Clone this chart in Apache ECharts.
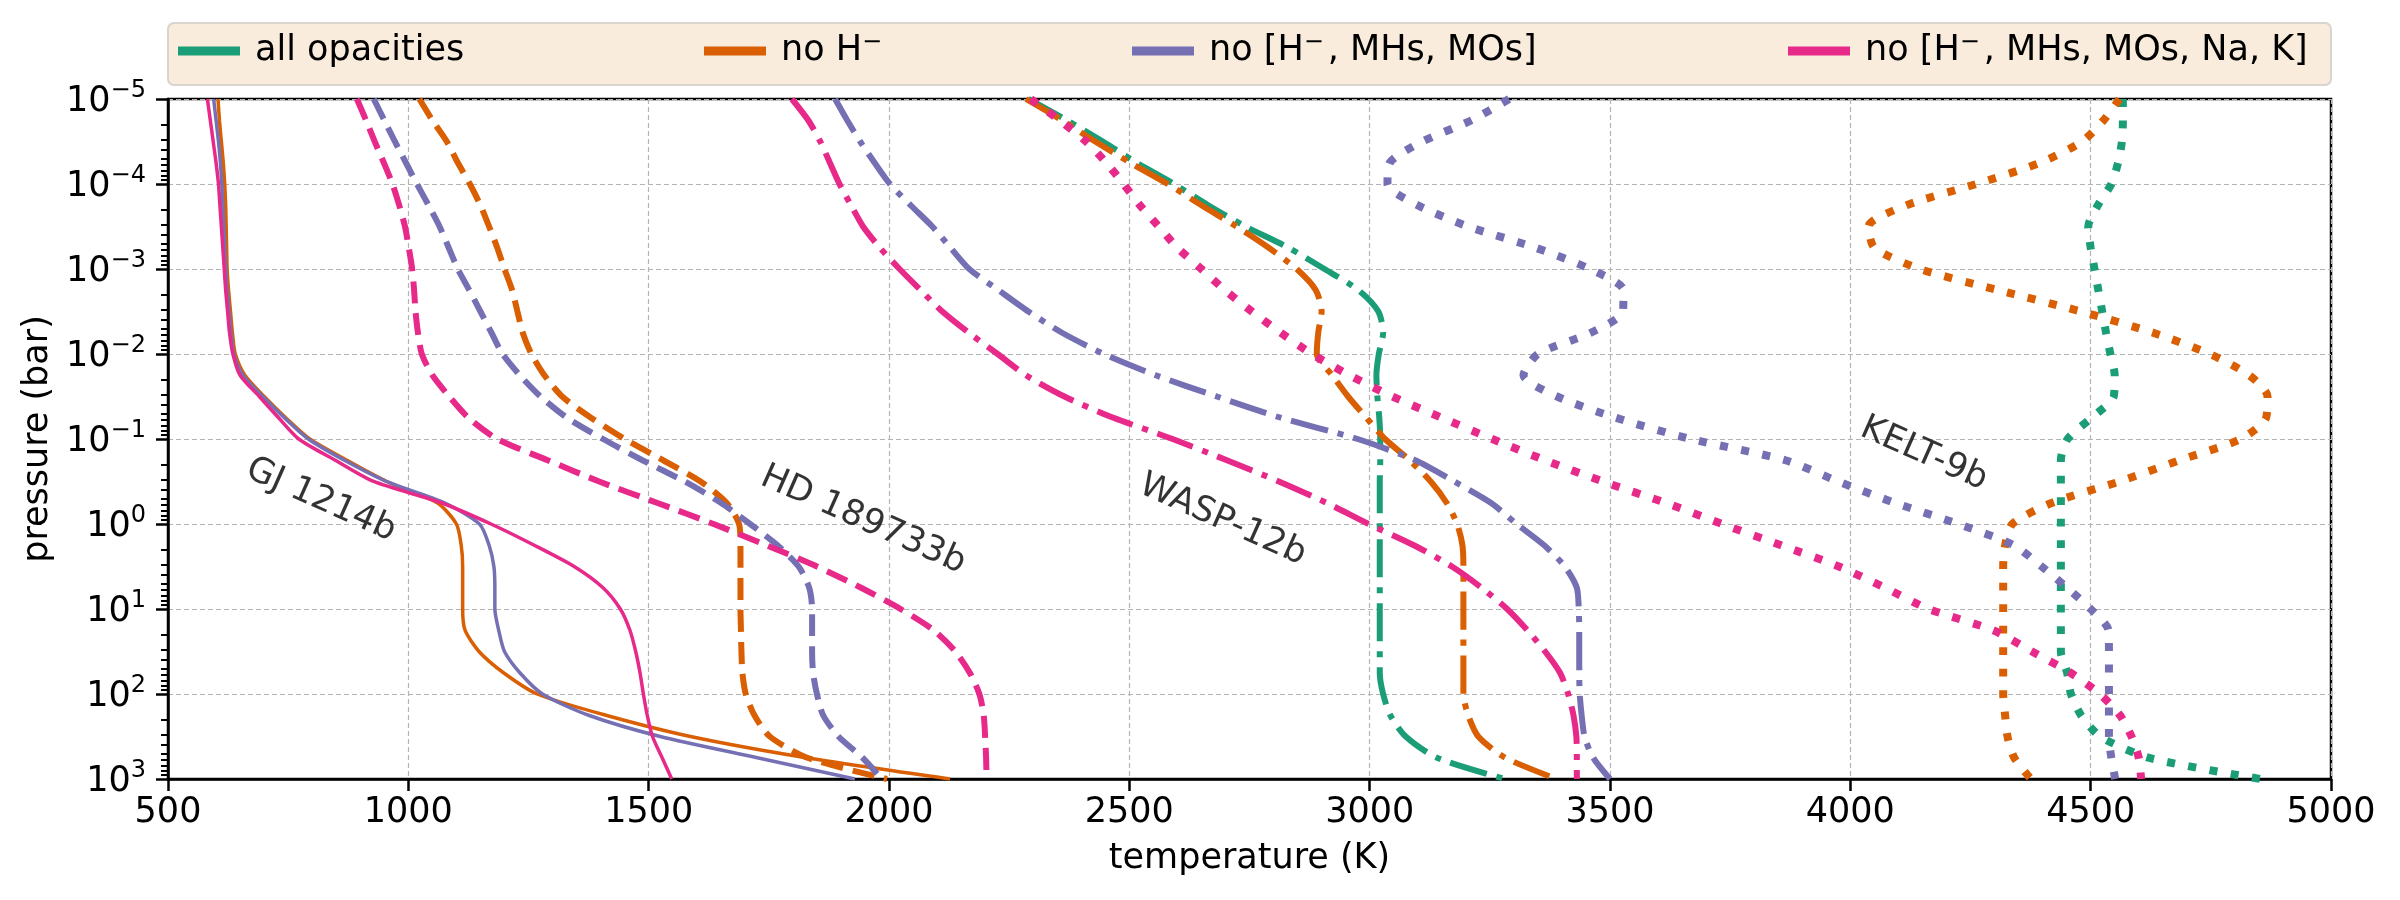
<!DOCTYPE html>
<html>
<head>
<meta charset="utf-8">
<title>pt_profiles</title>
<script src="https://cdn.jsdelivr.net/npm/echarts@6.0.0/dist/echarts.min.js"></script>
<style>
  html, body { margin: 0; padding: 0; background: #fff; }
  #main { width: 2400px; height: 900px; }
</style>
</head>
<body>
<div id="main"></div>
<script>
// pressure grid (bar), quarter decades from 1e-5 to 1e3
var pressure = [
  1e-5, 1.778e-5, 3.162e-5, 5.623e-5,
  1e-4, 1.778e-4, 3.162e-4, 5.623e-4,
  1e-3, 1.778e-3, 3.162e-3, 5.623e-3,
  1e-2, 1.778e-2, 3.162e-2, 5.623e-2,
  0.1, 0.1778, 0.3162, 0.5623,
  1, 1.778, 3.162, 5.623,
  10, 17.78, 31.62, 56.23,
  100, 177.8, 316.2, 562.3,
  1000
];

// temperatures (K) on that grid
// GJ 1214b (solid)
var gjNoHm    = [604,607,611,615, 618,620,621,622, 623,626,630,634, 640,660,700,745, 795,872,955,1060, 1100,1110,1113,1113, 1113,1118,1147,1198, 1268,1411,1587,1828, 2127];
var gjNoMetal = [595,600,605,609, 612,614,616,618, 620,623,627,631, 637,656,697,742, 792,867,955,1075, 1148,1168,1178,1180, 1180,1188,1200,1232, 1279,1375,1524,1726, 1929];
var gjNoAlk   = [582,588,594,600, 605,608,611,614, 617,620,624,628, 635,650,690,730, 772,848,928,1068, 1172,1262,1345,1405, 1441,1461,1473,1482, 1489,1497,1508,1528, 1548];
// HD 189733b (dashed)
var hdNoHm    = [1023,1050,1080,1103, 1128,1150,1168,1185, 1200,1216,1227,1238, 1256,1283,1320,1380, 1450,1530,1608,1662, 1688,1691,1691,1691, 1691,1692,1693,1695, 1702,1720,1752,1830, 1996];
var hdNoMetal = [928,950,972,995, 1018,1042,1065,1084, 1103,1127,1150,1173, 1196,1232,1275,1330, 1405,1487,1575,1650, 1711,1768,1812,1834, 1840,1840,1840,1842, 1850,1863,1895,1945, 1985];
var hdNoAlk   = [893,912,930,949, 967,981,993,1001, 1008,1012,1015,1020, 1028,1050,1085,1125, 1185,1290,1397,1517, 1635,1745,1850,1942, 2024,2093,2138,2168, 2188,2197,2200,2202, 2203];
// WASP-12b (dash-dot)
var waspAll     = [2290,2370,2445,2515, 2593,2664,2742,2831, 2906,2977,3018,3028, 3019,3014,3016,3020, 3022,3022,3021,3021, 3021,3021,3021,3021, 3021,3021,3021,3021, 3028,3043,3075,3140, 3282];
var waspNoHm    = [2285,2360,2429,2502, 2580,2650,2723,2790, 2848,2888,2900,2893, 2890,2922,2955,2993, 3032,3083,3127,3160, 3182,3193,3195,3195, 3195,3195,3195,3195, 3195,3205,3226,3282, 3389];
var waspNoMetal = [1888,1913,1940,1970, 2002,2045,2090,2128, 2167,2228,2290,2360, 2447,2555,2682,2815, 2975,3095,3176,3252, 3306,3363,3406,3431, 3435,3436,3436,3436, 3437,3441,3447,3465, 3500];
var waspNoAlk   = [1798,1832,1857,1877, 1897,1921,1946,1981, 2022,2066,2111,2166, 2226,2285,2365,2467, 2590,2703,2811,2910, 2998,3092,3171,3233, 3286,3328,3365,3396, 3413,3424,3430,3431, 3431];
// KELT-9b (dotted)
var keltAll     = [4567,4567,4565,4557, 4543,4515,4495,4500, 4508,4516,4524,4532, 4541,4550,4548,4502, 4452,4438,4438,4438, 4438,4438,4438,4438, 4438,4438,4438,4451, 4459,4480,4520,4621, 4853];
var keltNoHm    = [4560,4527,4482,4395, 4262,4117,4038,4050, 4145,4308,4480,4630, 4748,4830,4868,4865, 4812,4685,4560,4420, 4337,4322,4318,4318, 4318,4318,4318,4318, 4318,4322,4327,4341, 4376];
var keltNoMetal = [3290,3212,3110,3042, 3037,3100,3205,3345, 3458,3528,3527,3460, 3350,3320,3390,3512, 3668,3865,3975,4092, 4225,4340,4398,4451, 4500,4537,4538,4538, 4538,4538,4538,4543, 4551];
var keltNoAlk   = [2295,2355,2410,2452, 2488,2522,2561,2600, 2650,2699,2755,2815, 2880,2958,3047,3150, 3255,3365,3485,3615, 3733,3856,3976,4072, 4163,4297,4378,4458, 4519,4561,4585,4600, 4605];

var caseNames = ['all opacities', 'no H\u207b', 'no [H\u207b, MHs, MOs]', 'no [H\u207b, MHs, MOs, Na, K]'];
var caseColors = ['#1b9e77', '#d95f02', '#7570b3', '#e7298a'];

var planetNames = ['GJ 1214b', 'HD 189733b', 'WASP-12b', 'KELT-9b'];
var planetLabelT = [818, 1946, 2694, 4153];
var planetLabelP = [0.525, 0.9, 0.9, 0.15];

var lineKinds = {
  solid:   { width: 3.5, type: 'solid' },
  dashed:  { width: 6, type: [22, 10] },
  dashdot: { width: 6, type: [38, 10, 6, 10] },
  dotted:  { width: 8, type: [8, 13.5] }
};

// [temperatures, case index, line kind]
var profiles = [
  [gjNoHm, 1, 'solid'], [gjNoMetal, 2, 'solid'], [gjNoAlk, 3, 'solid'],
  [hdNoHm, 1, 'dashed'], [hdNoMetal, 2, 'dashed'], [hdNoAlk, 3, 'dashed'],
  [waspAll, 0, 'dashdot'], [waspNoHm, 1, 'dashdot'], [waspNoMetal, 2, 'dashdot'], [waspNoAlk, 3, 'dashdot'],
  [keltAll, 0, 'dotted'], [keltNoHm, 1, 'dotted'], [keltNoMetal, 2, 'dotted'], [keltNoAlk, 3, 'dotted']
];

var legendLeft = [178, 704, 1132, 1788];

var series = profiles.map(function (p) {
  var k = lineKinds[p[2]];
  return {
    name: caseNames[p[1]],
    type: 'line',
    showSymbol: false,
    symbol: 'none',
    smooth: 0.25,
    color: caseColors[p[1]],
    lineStyle: { color: caseColors[p[1]], width: k.width, type: k.type, cap: 'butt' },
    data: p[0].map(function (t, i) { return [t, pressure[i]]; }),
    z: 3
  };
});

// planet names written along the curves
series.push({
  type: 'scatter',
  symbolSize: 1,
  itemStyle: { color: 'rgba(0,0,0,0)' },
  silent: true,
  z: 10,
  label: {
    show: true,
    position: 'inside',
    formatter: '{b}',
    rotate: -24,
    fontSize: 35,
    color: '#000',
    fontFamily: 'DejaVu Sans'
  },
  data: planetNames.map(function (n, i) {
    return { name: n, value: [planetLabelT[i], planetLabelP[i]] };
  })
});

var chart = echarts.init(document.getElementById('main'));
chart.setOption({
  animation: false,
  backgroundColor: '#fff',
  textStyle: { fontFamily: 'DejaVu Sans' },
  grid: {
    left: 168, right: 69, top: 99, bottom: 121,
    show: true, borderColor: '#000', borderWidth: 2.5,
    containLabel: false, outerBoundsMode: 'none'
  },
  graphic: [{
    type: 'rect',
    shape: { x: 168, y: 23, width: 2163, height: 62, r: 6 },
    style: { fill: '#f9ecdc', stroke: '#d8d4ce', lineWidth: 2 },
    silent: true,
    z: 1
  }],
  legend: caseNames.map(function (n, i) {
    return {
      data: [{ name: n, itemStyle: { color: caseColors[i], borderWidth: 0 } }],
      left: legendLeft[i],
      top: 31,
      padding: 0,
      icon: 'rect',
      itemWidth: 62,
      itemHeight: 9,
      selectedMode: false,
      z: 5,
      // superscript minus drawn like the mathtext one
      formatter: function (name) { return name.split('\u207b').join('{s|\u2212}'); },
      textStyle: {
        fontSize: 35, color: '#000', fontFamily: 'DejaVu Sans', lineHeight: 40, padding: [0, 0, 0, 10],
        rich: { s: { fontSize: 24, color: '#000', lineHeight: 24, verticalAlign: 'top', padding: [0, 4, 0, 0], fontFamily: 'DejaVu Sans' } }
      }
    };
  }),
  xAxis: {
    type: 'value',
    min: 500,
    max: 5000,
    interval: 500,
    name: 'temperature (K)',
    nameLocation: 'middle',
    nameGap: 62,
    nameTextStyle: { fontSize: 35, color: '#000' },
    axisLine: { show: true, onZero: false, lineStyle: { color: '#000', width: 2.5 } },
    axisTick: { show: true, inside: false, length: 12, lineStyle: { color: '#000', width: 2.5 } },
    axisLabel: {
      fontSize: 35, color: '#000', margin: 16, interval: 0, showMinLabel: true, showMaxLabel: true,
      formatter: function (v) { return String(v); }
    },
    splitLine: { show: true, lineStyle: { color: '#b4b4b4', width: 1.2, type: [5, 3] } }
  },
  yAxis: {
    type: 'log',
    logBase: 10,
    min: 1e-5,
    max: 1e3,
    interval: 1,
    inverse: true,
    position: 'left',
    name: 'pressure (bar)',
    nameLocation: 'middle',
    nameGap: 108,
    nameTextStyle: { fontSize: 35, color: '#000' },
    axisLine: { show: true, onZero: false, lineStyle: { color: '#000', width: 2.5 } },
    axisTick: { show: true, inside: false, length: 12, lineStyle: { color: '#000', width: 2.5 } },
    minorTick: { show: true, splitNumber: 9, length: 7, lineStyle: { color: '#000', width: 2 } },
    axisLabel: {
      margin: 22,
      showMinLabel: true,
      showMaxLabel: true,
      formatter: function (v) {
        var e = Math.round(Math.log10(v));
        return '{b|10}{s|' + (e < 0 ? '\u2212' + (-e) : e) + '}';
      },
      rich: {
        b: { fontSize: 35, color: '#000', lineHeight: 40, verticalAlign: 'bottom', fontFamily: 'DejaVu Sans' },
        s: { fontSize: 24, color: '#000', lineHeight: 22, verticalAlign: 'top', fontFamily: 'DejaVu Sans' }
      }
    },
    splitLine: { show: true, lineStyle: { color: '#b4b4b4', width: 1.2, type: [5, 3] } }
  },
  series: series
});
</script>
</body>
</html>
